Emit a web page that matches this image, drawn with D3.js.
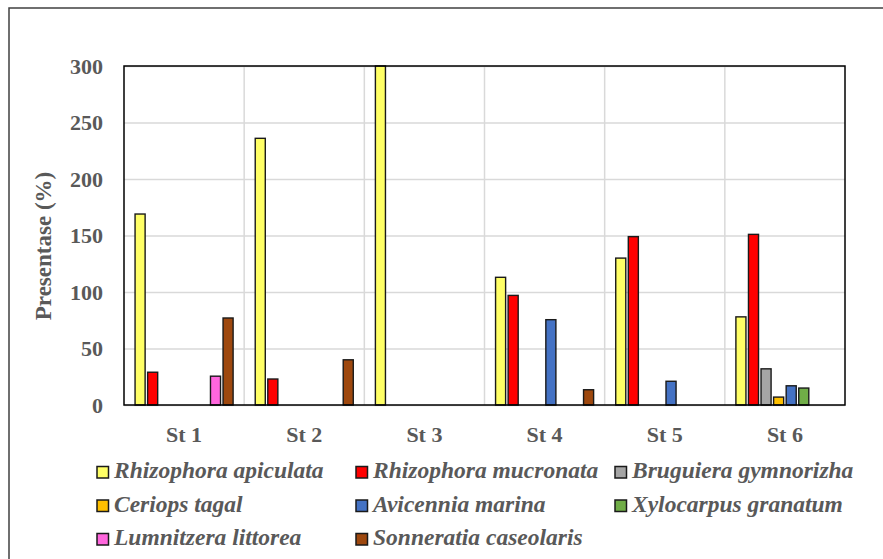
<!DOCTYPE html>
<html lang="en">
<head>
<meta charset="utf-8">
<title>Presentase per stasiun</title>
<script src="https://d3js.org/d3.v7.min.js"></script>
<style>
  body { margin: 0; background: #fff; }
  .tick text { font-family: "Liberation Serif", "Times New Roman", serif; font-weight: bold; font-size: 22px; fill: #595959; }
  .legend text { font-family: "Liberation Serif", "Times New Roman", serif; font-weight: bold; font-style: italic; font-size: 23.5px; fill: #595959; }
  .ytitle { font-family: "Liberation Serif", "Times New Roman", serif; font-weight: bold; font-size: 23px; fill: #595959; }
</style>
</head>
<body>
<script>
// data
const stations = ["St 1", "St 2", "St 3", "St 4", "St 5", "St 6"];
const species = ["Rhizophora apiculata", "Rhizophora mucronata", "Bruguiera gymnorizha", "Ceriops tagal",
                 "Avicennia marina", "Xylocarpus granatum", "Lumnitzera littorea", "Sonneratia caseolaris"];
const colors = ["#FFFF66", "#FF0000", "#A5A5A5", "#FFC000", "#4472C4", "#70AD47", "#FF66DD", "#9E480E"];

const rhizophoraApiculata = [169, 236, 300, 113, 130, 78];
const rhizophoraMucronata = [29, 23, 0, 97, 149, 151];
const bruguieraGymnorizha = [0, 0, 0, 0, 0, 32];
const ceriopsTagal        = [0, 0, 0, 0, 0, 7];
const avicenniaMarina     = [0, 0, 0, 75.5, 21, 17];
const xylocarpusGranatum  = [0, 0, 0, 0, 0, 15];
const lumnitzeraLittorea  = [25.5, 0, 0, 0, 0, 0];
const sonneratiaCaseolaris = [77, 40, 0, 13.5, 0, 0];
const yTicks = [0, 50, 100, 150, 200, 250, 300];

const seriesValues = [rhizophoraApiculata, rhizophoraMucronata, bruguieraGymnorizha, ceriopsTagal,
                      avicenniaMarina, xylocarpusGranatum, lumnitzeraLittorea, sonneratiaCaseolaris];

const w = 883, h = 559;
const plot = { left: 124, right: 845, top: 66, bottom: 405 };

const svg = d3.select("body").append("svg")
    .attr("width", w)
    .attr("height", h);

// outer chart border (runs off the right/bottom edge)
svg.append("rect")
    .attr("x", 9).attr("y", 8)
    .attr("width", 900).attr("height", 600)
    .attr("fill", "#fff")
    .attr("stroke", "#404040")
    .attr("stroke-width", 1.5);

const x0 = d3.scaleBand().domain(stations).range([plot.left, plot.right]);
const x1 = d3.scaleBand().domain(species).range([0, x0.bandwidth()])
    .paddingInner(0.2).paddingOuter(0.88);
const y = d3.scaleLinear().domain([0, 300]).range([plot.bottom, plot.top]);

// horizontal gridlines
svg.append("g")
    .attr("transform", `translate(${plot.left},0)`)
    .call(d3.axisLeft(y).tickValues(yTicks).tickSize(-(plot.right - plot.left)).tickFormat(""))
    .call(g => g.select(".domain").remove())
    .call(g => g.selectAll("line").attr("stroke", "#d9d9d9").attr("stroke-width", 1.5));

// vertical gridlines at category boundaries
svg.append("g")
    .selectAll("line")
    .data(stations.slice(1))
    .join("line")
    .attr("x1", d => x0(d)).attr("x2", d => x0(d))
    .attr("y1", plot.top).attr("y2", plot.bottom)
    .attr("stroke", "#d9d9d9").attr("stroke-width", 1.5);

// bars
const groups = svg.append("g")
    .selectAll("g")
    .data(stations)
    .join("g")
    .attr("transform", d => `translate(${x0(d)},0)`);

groups.selectAll("rect")
    .data((st, i) => species.map((sp, j) => ({ sp, color: colors[j], v: seriesValues[j][i] })).filter(d => d.v > 0))
    .join("rect")
    .attr("x", d => x1(d.sp))
    .attr("width", x1.bandwidth())
    .attr("y", d => y(d.v))
    .attr("height", d => y(0) - y(d.v))
    .attr("fill", d => d.color)
    .attr("stroke", "#1a1a1a")
    .attr("stroke-width", 1.4);

// plot frame
svg.append("rect")
    .attr("x", plot.left).attr("y", plot.top)
    .attr("width", plot.right - plot.left).attr("height", plot.bottom - plot.top)
    .attr("fill", "none")
    .attr("stroke", "#000")
    .attr("stroke-width", 1.5);

// y axis labels
svg.append("g")
    .attr("transform", `translate(${plot.left},0)`)
    .call(d3.axisLeft(y).tickValues(yTicks).tickSize(0).tickPadding(21))
    .call(g => g.select(".domain").remove());

// x axis labels
svg.append("g")
    .attr("transform", `translate(0,${plot.bottom})`)
    .call(d3.axisBottom(x0).tickSize(0).tickPadding(21))
    .call(g => g.select(".domain").remove());

// y axis title
svg.append("text")
    .attr("class", "ytitle")
    .attr("transform", "translate(51,246) rotate(-90)")
    .attr("text-anchor", "middle")
    .text("Presentase (%)");

// legend
const legCols = [97, 356, 615];
const legRows = [466.5, 500, 533.5];
const legend = svg.append("g").attr("class", "legend")
    .selectAll("g")
    .data(species)
    .join("g")
    .attr("transform", (d, i) => `translate(${legCols[i % 3]},${legRows[Math.floor(i / 3)]})`);

legend.append("rect")
    .attr("width", 11.5).attr("height", 11.5)
    .attr("fill", (d, i) => colors[i])
    .attr("stroke", "#1a1a1a")
    .attr("stroke-width", 1.5);

legend.append("text")
    .attr("x", 17)
    .attr("y", 11.5)
    .text(d => d);
</script>
</body>
</html>
